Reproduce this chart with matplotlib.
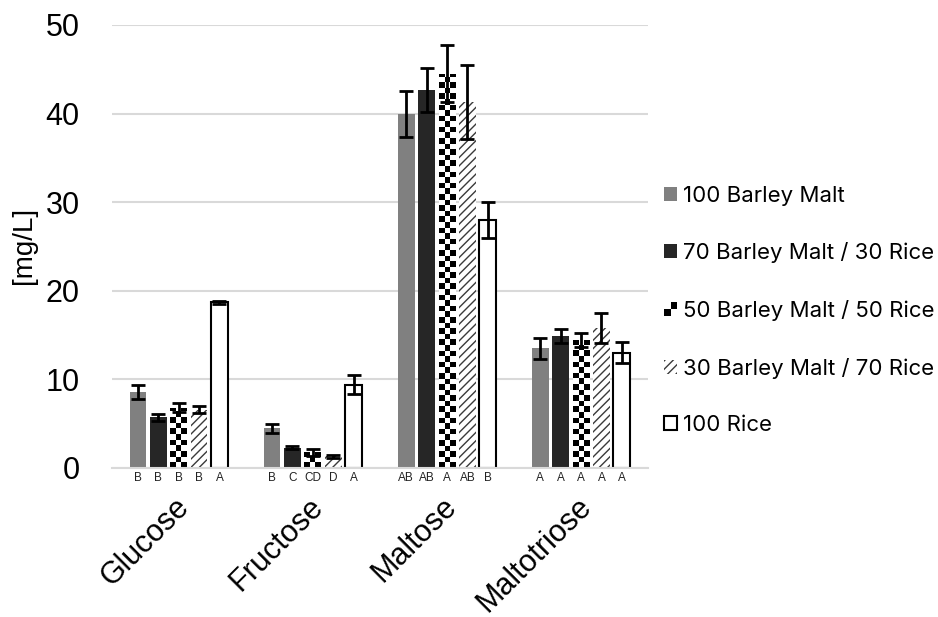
import numpy as np
import matplotlib
matplotlib.use("Agg")
import matplotlib.pyplot as plt
import matplotlib.transforms as mtransforms
from matplotlib.legend_handler import HandlerBase
from matplotlib.patches import Rectangle

plt.rcParams["font.family"] = ["Liberation Sans", "DejaVu Sans"]
plt.rcParams["hatch.linewidth"] = 1.0

# sugar concentrations [mg/L], mean and error per blend
sugars = ["Glucose", "Fructose", "Maltose", "Maltotriose"]
blends = ["100 Barley Malt", "70 Barley Malt / 30 Rice", "50 Barley Malt / 50 Rice",
          "30 Barley Malt / 70 Rice", "100 Rice"]

barley100 = [8.6, 4.5, 40.0, 13.5]
barley70 = [5.7, 2.3, 42.7, 14.9]
barley50 = [6.8, 1.8, 44.5, 14.4]
barley30 = [6.6, 1.3, 41.3, 15.8]
rice100 = [18.7, 9.4, 28.0, 13.0]

err100 = [0.8, 0.5, 2.6, 1.2]
err70 = [0.4, 0.2, 2.5, 0.8]
err50 = [0.5, 0.4, 3.2, 0.8]
err30 = [0.4, 0.2, 4.2, 1.7]
err_rice = [0.2, 1.1, 2.0, 1.2]

# significance letters below each bar (rows = blends)
letters100 = ["B", "B", "AB", "A"]
letters70 = ["B", "C", "AB", "A"]
letters50 = ["B", "CD", "A", "A"]
letters30 = ["B", "D", "AB", "A"]
letters_rice = ["A", "A", "B", "A"]

yticks = [0, 10, 20, 30, 40, 50]

values = [barley100, barley70, barley50, barley30, rice100]
errors = [err100, err70, err50, err30, err_rice]
letters = [letters100, letters70, letters50, letters30, letters_rice]

styles = [
    dict(color="#808080", edgecolor="none", linewidth=0),
    dict(color="#262626", edgecolor="none", linewidth=0),
    dict(color="white", edgecolor="none", linewidth=0),  # checker fill added below
    dict(color="white", edgecolor="#3a3a3a", linewidth=0, hatch="////"),
    dict(color="white", edgecolor="black", linewidth=1.5),
]

fig = plt.figure(figsize=(9.38, 6.17), dpi=100)
ax = fig.add_axes([0.119, 0.2415, 0.572, 0.718])

x = np.arange(len(sugars))
step = 0.152
width = 0.125

bars_all = []
for j, (vals, errs, st) in enumerate(zip(values, errors, styles)):
    xs = x + (j - 2) * step
    bars = ax.bar(xs, vals, width, zorder=2, label=blends[j], **st)
    ax.errorbar(xs, vals, yerr=errs, fmt="none", ecolor="black", elinewidth=2,
                capsize=5, capthick=2, zorder=4)
    bars_all.append(bars)

# checkerboard fill for the 50/50 blend, clipped to each bar
cell_h = 0.63
for rect in bars_all[2]:
    bx, bw, bh = rect.get_x(), rect.get_width(), rect.get_height()
    nrows = int(np.ceil(bh / cell_h))
    grid = (np.add.outer(np.arange(nrows), np.arange(3)) % 2).astype(float)
    im = ax.imshow(grid, extent=(bx, bx + bw, 0, nrows * cell_h), origin="lower",
                   cmap="gray", vmin=0, vmax=1, interpolation="nearest",
                   aspect="auto", zorder=2.5)
    im.set_clip_path(rect)

# letters under the bars
trans = mtransforms.blended_transform_factory(ax.transData, ax.transAxes)
for j, labs in enumerate(letters):
    for i, lab in enumerate(labs):
        ax.text(x[i] + (j - 2) * step, -0.022, lab, transform=trans,
                ha="center", va="center", fontsize=8.5, color="#222222")

ax.set_xlim(-0.5, len(sugars) - 0.5)
ax.set_ylim(0, 50)
ax.set_yticks(yticks)
ax.tick_params(axis="y", length=0, labelsize=22, pad=23)
ax.tick_params(axis="x", length=0, labelsize=22, pad=15)
ax.set_xticks(x)
ax.set_xticklabels(sugars, rotation=45, ha="right", rotation_mode="anchor")
offset = mtransforms.ScaledTranslation(-0.05, -0.03, fig.dpi_scale_trans)
for lab in ax.get_xticklabels():
    lab.set_transform(lab.get_transform() + offset)
ax.set_ylabel("[mg/L]", fontsize=20)
ax.yaxis.set_label_coords(-0.14, 0.503)

ax.grid(axis="y", color="#d9d9d9", linewidth=1.5, zorder=0)
ax.set_axisbelow(True)
for side in ["left", "right", "top"]:
    ax.spines[side].set_visible(False)
ax.spines["bottom"].set_color("#d9d9d9")
ax.spines["bottom"].set_linewidth(1.5)


class CheckerHandler(HandlerBase):
    def create_artists(self, legend, orig_handle, xdescent, ydescent,
                       width, height, fontsize, trans):
        s = min(width, height)
        x0 = -xdescent
        y0 = -ydescent + (height - s) / 2
        arts = []
        for i in range(2):
            for k in range(2):
                c = "black" if (i + k) % 2 == 0 else "white"
                arts.append(Rectangle((x0 + i * s / 2, y0 + k * s / 2), s / 2, s / 2,
                                      facecolor=c, edgecolor="none", transform=trans))
        return arts


handles = [b[0] for b in bars_all]
leg = fig.legend(handles, blends, loc="center left", bbox_to_anchor=(0.708, 0.497),
                 frameon=False, handlelength=0.6, handleheight=0.6,
                 handletextpad=0.25, labelspacing=1.65, borderaxespad=0, borderpad=0,
                 prop={"family": ["Inter", "DejaVu Sans"], "size": 16},
                 handler_map={handles[2]: CheckerHandler()})

fig.savefig("out.png", dpi=100)
